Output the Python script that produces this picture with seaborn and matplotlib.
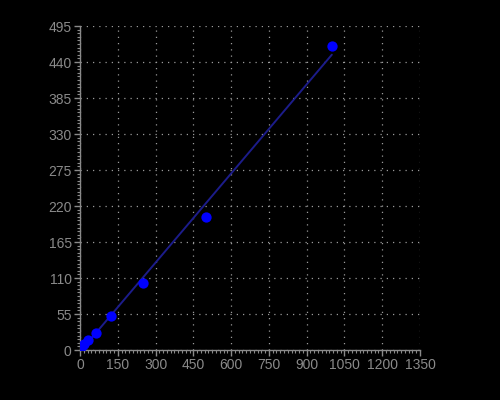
import numpy as np
import pandas as pd
import matplotlib
matplotlib.use("Agg")
import matplotlib.pyplot as plt
import seaborn as sns
from matplotlib.ticker import AutoMinorLocator

conc = [0, 7.8, 15.6, 31.25, 62.5, 125, 250, 500, 1000]
signal = [3, 6, 9, 15, 26, 52, 102, 203, 464]

x_ticks = list(range(0, 1351, 150))
y_ticks = list(range(0, 496, 55))

df = pd.DataFrame({"conc": conc, "signal": signal})

sns.set_style("dark")
plt.rcParams["font.family"] = ["Liberation Sans", "DejaVu Sans"]

fig = plt.figure(figsize=(5, 4), dpi=100, facecolor="black")
ax = fig.add_axes([0.16, 0.125, 0.68, 0.81])
ax.set_facecolor("black")

sns.regplot(data=df, x="conc", y="signal", ax=ax, ci=None,
            scatter_kws={"s": 55, "color": "#0000ff", "alpha": 1, "linewidths": 0, "zorder": 3},
            line_kws={"color": "#1c1c8a", "lw": 1.4, "zorder": 2})

ax.set_xlim(0, 1350)
ax.set_ylim(0, 495)
ax.set_xticks(x_ticks)
ax.set_yticks(y_ticks)
ax.xaxis.set_minor_locator(AutoMinorLocator(10))
ax.yaxis.set_minor_locator(AutoMinorLocator(10))
ax.set_xlabel("")
ax.set_ylabel("")

ax.grid(True, which="major", color="#9a9a9a", linestyle=(0, (1, 4)), linewidth=0.9)
ax.grid(False, which="minor")
for side in ["top", "right"]:
    ax.spines[side].set_visible(False)
for side in ["left", "bottom"]:
    ax.spines[side].set_visible(True)
    ax.spines[side].set_color("#8a8a8a")
    ax.spines[side].set_linewidth(1)

ax.tick_params(which="major", length=4, width=1, color="#8a8a8a", labelcolor="#8a8a8a",
               labelsize=10, direction="out", bottom=True, left=True, pad=2)
ax.tick_params(which="minor", length=2, width=0.8, color="#8a8a8a", direction="out",
               bottom=True, left=True)

fig.savefig("out.png", dpi=100, facecolor="black")
